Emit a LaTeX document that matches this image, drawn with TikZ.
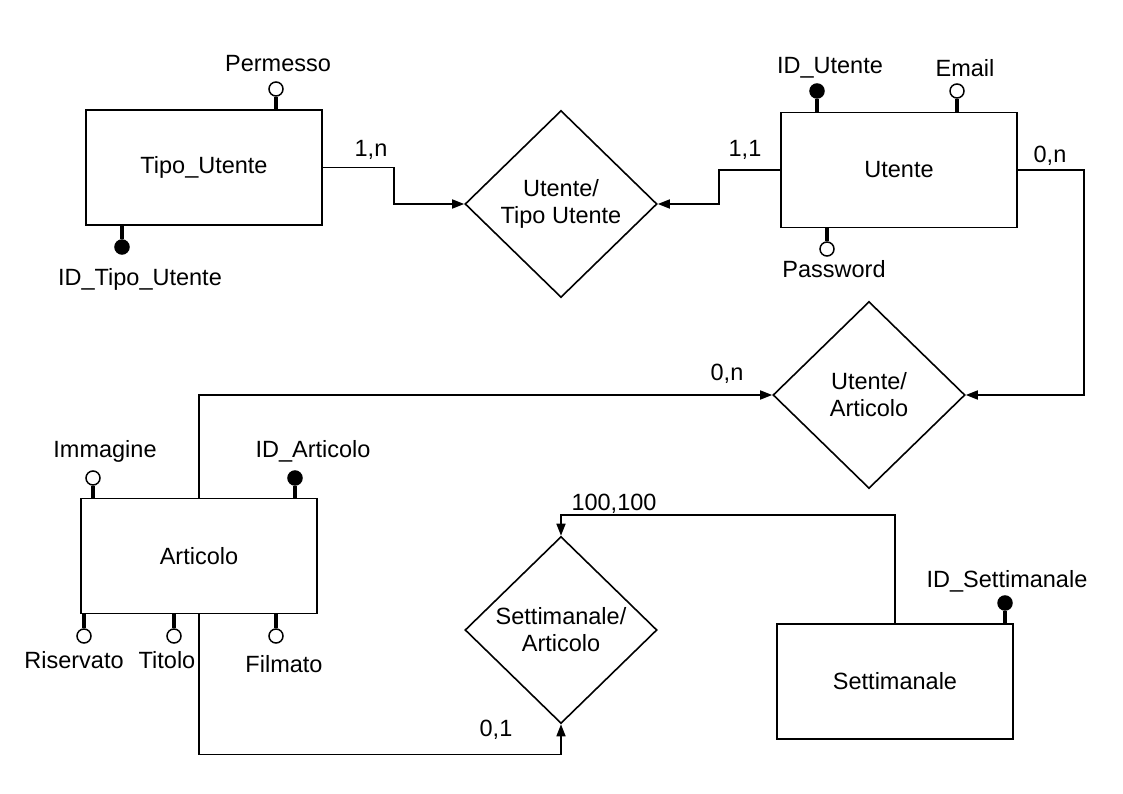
\documentclass[tikz,border=0pt]{standalone}
\usepackage{fontspec}
\setmainfont{Liberation Sans}
\usetikzlibrary{shapes.geometric,arrows.meta}
\begin{document}
\begin{tikzpicture}[x=1pt,y=-1pt,
  every node/.style={font=\fontsize{23.5}{27}\selectfont},
  entity/.style={draw,line width=1.6pt,minimum width=236pt,minimum height=115pt,inner sep=0pt},
  relation/.style={draw,diamond,line width=1.6pt,minimum width=192pt,minimum height=187pt,inner sep=0pt,align=center},
  conn/.style={line width=1.6pt},
  arr/.style={conn,-{Triangle[length=12pt,width=9pt]}},
  stem/.style={line width=4pt},
  attr/.style={draw,circle,line width=1.5pt,minimum size=14pt,inner sep=0pt,fill=white},
  keyattr/.style={attr,fill=black},
  lbl/.style={anchor=base,inner sep=0pt}
]
\useasboundingbox (0,0) rectangle (1123,794);

% entities
\node[entity] (tu) at (204,167.5) {Tipo\_Utente};
\node[entity] (ut) at (899,170) {Utente};
\node[entity] (ar) at (199,556) {Articolo};
\node[entity] (se) at (895,681.5) {Settimanale};

% relations
\node[relation] (d1) at (561,204) {Utente/\\Tipo Utente};
\node[relation] (d2) at (869,395) {Utente/\\Articolo};
\node[relation] (d3) at (561,630) {Settimanale/\\Articolo};

% connectors
\draw[arr] (tu.east) -- ++(71,0) |- (d1.west);
\draw[arr] (ut.west) -- ++(-61,0) |- (d1.east);
\draw[arr] (ut.east) -- ++(66,0) |- (d2.east);
\draw[arr] (ar.north) |- (d2.west);
\draw[arr] (ar.south) -- ++(0,140) -| (d3.south);
\draw[arr] (se.north) -- ++(0,-108) -| (d3.north);

% cardinalities
\node[lbl] (c1) at (371,157) {1,n};
\node[lbl] (c2) at (745,157) {1,1};
\node[lbl] (c3) at (1050,163) {0,n};
\node[lbl] (c4) at (727,380) {0,n};
\node[lbl] (c5) at (496,736) {0,1};
\node[lbl] (c6) at (614,510) {100,100};

% attributes
\node[attr] (perm) at (276,89) {};
\draw[stem] (tu.north -| perm) -- (perm);
\node[lbl] at (278,72) {Permesso};

\node[keyattr] (idtu) at (122,247) {};
\draw[stem] (tu.south -| idtu) -- (idtu);
\node[lbl] at (140,285) {ID\_Tipo\_Utente};

\node[keyattr] (idut) at (817,91) {};
\draw[stem] (ut.north -| idut) -- (idut);
\node[lbl] at (830,74) {ID\_Utente};

\node[attr] (mail) at (957,91) {};
\draw[stem] (ut.north -| mail) -- (mail);
\node[lbl] at (965,77) {Email};

\node[attr] (pass) at (827,249) {};
\draw[stem] (ut.south -| pass) -- (pass);
\node[lbl] at (834,277) {Password};

\node[attr] (imm) at (93,478) {};
\draw[stem] (ar.north -| imm) -- (imm);
\node[lbl] at (105,457) {Immagine};

\node[keyattr] (idar) at (295,478) {};
\draw[stem] (ar.north -| idar) -- (idar);
\node[lbl] at (313,457) {ID\_Articolo};

\node[attr] (ris) at (84,636) {};
\draw[stem] (ar.south -| ris) -- (ris);
\node[lbl] at (74,668) {Riservato};

\node[attr] (tit) at (174,636) {};
\draw[stem] (ar.south -| tit) -- (tit);
\node[lbl] at (167,668) {Titolo};

\node[attr] (film) at (276,636) {};
\draw[stem] (ar.south -| film) -- (film);
\node[lbl] at (284,672) {Filmato};

\node[keyattr] (idse) at (1005,603) {};
\draw[stem] (se.north -| idse) -- (idse);
\node[lbl] at (1007,587) {ID\_Settimanale};
\end{tikzpicture}
\end{document}
